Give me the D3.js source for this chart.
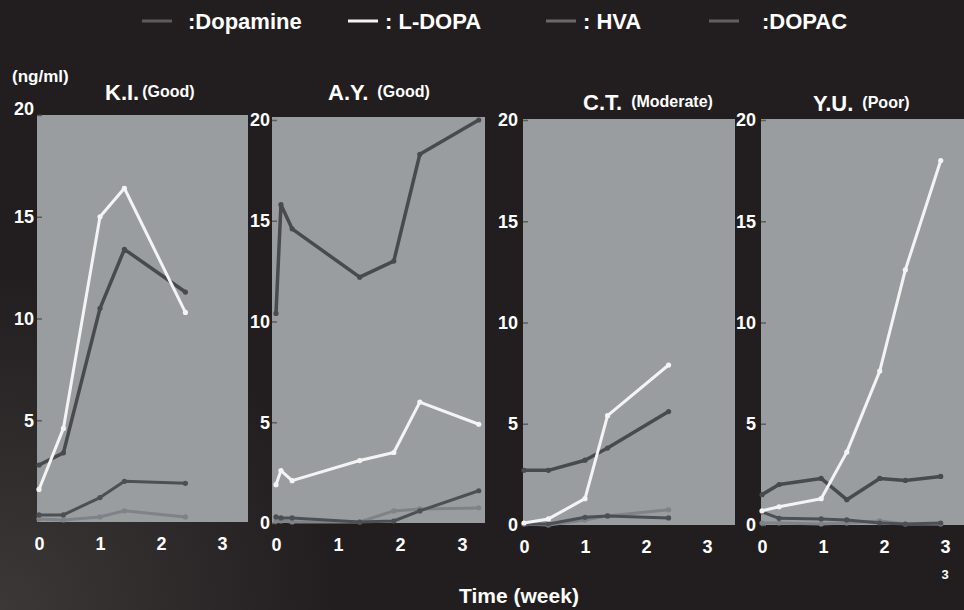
<!DOCTYPE html>
<html>
<head>
<meta charset="utf-8">
<script src="https://cdn.jsdelivr.net/npm/d3@7"></script>
<style>
  html, body { margin: 0; padding: 0; background: #221e1f; }
  svg text { font-family: 'Liberation Sans', Arial, sans-serif; font-weight: bold; fill: #fff; }
</style>
</head>
<body>
<svg id="chart" width="964" height="610"></svg>
<script>
// series + panel labels
const seriesNames = ['Dopamine', 'L-DOPA', 'HVA', 'DOPAC'];
const legendLabels = [':Dopamine', ': L-DOPA', ': HVA', ':DOPAC'];
const patients = ['K.I.', 'A.Y.', 'C.T.', 'Y.U.'];
const outcomes = ['(Good)', '(Good)', '(Moderate)', '(Poor)'];
const yTicks = [0, 5, 10, 15, 20];
const xTicks = [0, 1, 2, 3];

// K.I. (Good)
const kiWeeks = [0, 0.4, 1.0, 1.4, 2.4];
const kiDopamine = [0.15, 0.1, 0.25, 0.55, 0.25];
const kiLdopa = [1.6, 4.6, 15.0, 16.4, 10.3];
const kiHva = [2.8, 3.4, 10.5, 13.4, 11.3];
const kiDopac = [0.35, 0.35, 1.2, 2.0, 1.9];

// A.Y. (Good)
const ayWeeks = [0, 0.08, 0.26, 1.35, 1.9, 2.32, 3.27];
const ayDopamine = [0.1, 0.1, 0.05, 0.05, 0.6, 0.7, 0.75];
const ayLdopa = [1.9, 2.6, 2.1, 3.1, 3.5, 6.0, 4.9];
const ayHva = [10.4, 15.8, 14.6, 12.2, 13.0, 18.3, 20.0];
const ayDopac = [0.3, 0.25, 0.25, 0.05, 0.1, 0.6, 1.6];

// C.T. (Moderate)
const ctWeeks = [0, 0.4, 1.0, 1.37, 2.37];
const ctDopamine = [0.05, 0.0, 0.25, 0.45, 0.75];
const ctLdopa = [0.1, 0.3, 1.3, 5.4, 7.9];
const ctHva = [2.7, 2.7, 3.2, 3.8, 5.6];
const ctDopac = [0.05, 0.05, 0.38, 0.45, 0.35];

// Y.U. (Poor)
const yuWeeks = [0, 0.28, 0.97, 1.39, 1.93, 2.35, 2.93];
const yuDopamine = [0.1, 0.1, 0.05, 0.1, 0.2, 0.05, 0.05];
const yuLdopa = [0.7, 0.9, 1.3, 3.6, 7.6, 12.6, 18.0];
const yuHva = [1.5, 2.0, 2.3, 1.25, 2.3, 2.2, 2.4];
const yuDopac = [0.65, 0.33, 0.3, 0.25, 0.1, 0.05, 0.1];

const panelData = [
  { weeks: kiWeeks, values: [kiDopamine, kiLdopa, kiHva, kiDopac] },
  { weeks: ayWeeks, values: [ayDopamine, ayLdopa, ayHva, ayDopac] },
  { weeks: ctWeeks, values: [ctDopamine, ctLdopa, ctHva, ctDopac] },
  { weeks: yuWeeks, values: [yuDopamine, yuLdopa, yuHva, yuDopac] },
];

// layout of each panel (pixels)
const layout = [
  { left: 37, right: 248, top: 115, bottom: 522, x0: 39, wk: 61, y20: 115, pad: 3, showZero: false, titleX: 105, titleY: 100 },
  { left: 272, right: 485, top: 117, bottom: 523, x0: 276, wk: 62, y20: 120, pad: 2, showZero: true, titleX: 328, titleY: 100 },
  { left: 523, right: 735, top: 119, bottom: 525, x0: 524, wk: 61, y20: 120, pad: 5, showZero: true, titleX: 583, titleY: 110 },
  { left: 761, right: 964, top: 119, bottom: 525, x0: 762, wk: 61, y20: 120, pad: 5, showZero: true, titleX: 813, titleY: 111 },
];

const colorScale = d3.scaleOrdinal()
  .domain(seriesNames)
  .range(['#7f8286', '#f4f4f4', '#474b4f', '#4c5054']);
const legendColor = d3.scaleOrdinal()
  .domain(seriesNames)
  .range(['#5c5a5a', '#f4f4f4', '#6a6868', '#606060']);
const strokeW = { 'Dopamine': 3, 'L-DOPA': 3, 'HVA': 3.5, 'DOPAC': 3 };
const drawOrder = ['Dopamine', 'DOPAC', 'HVA', 'L-DOPA'];

const svg = d3.select('#chart');

// background with lighter corner at bottom-left
const defs = svg.append('defs');
const grad = defs.append('radialGradient')
  .attr('id', 'bg-glow')
  .attr('gradientUnits', 'userSpaceOnUse')
  .attr('cx', 0).attr('cy', 610).attr('r', 340);
grad.append('stop').attr('offset', '0%').attr('stop-color', '#3c3838');
grad.append('stop').attr('offset', '100%').attr('stop-color', '#221e1f');
svg.append('rect').attr('width', 964).attr('height', 610).attr('fill', '#221e1f');
svg.append('rect').attr('width', 964).attr('height', 610).attr('fill', 'url(#bg-glow)');

// legend
const legendX = [142, 348, 546, 709];
const legend = svg.append('g').attr('class', 'legend');
seriesNames.forEach((s, i) => {
  const g = legend.append('g').attr('transform', `translate(${legendX[i]},20)`);
  g.append('line')
    .attr('x1', 0).attr('x2', 30).attr('y1', 1).attr('y2', 1)
    .attr('stroke', legendColor(s)).attr('stroke-width', 3);
  g.append('text')
    .attr('x', s === 'Dopamine' ? 46 : s === 'DOPAC' ? 53 : 37)
    .attr('y', 9)
    .style('font-size', '22px')
    .text(legendLabels[i]);
});

// unit label
svg.append('text').attr('x', 12).attr('y', 82).style('font-size', '17px').text('(ng/ml)');

panelData.forEach((pd, p) => {
  const L = layout[p];
  const x = d3.scaleLinear().domain([0, 3]).range([L.x0, L.x0 + 3 * L.wk]);
  const y = d3.scaleLinear().domain([0, 20]).range([L.bottom, L.y20]);

  const g = svg.append('g').attr('class', 'panel');

  g.append('rect')
    .attr('x', L.left).attr('y', L.top)
    .attr('width', L.right - L.left).attr('height', L.bottom - L.top)
    .attr('fill', '#9a9da0');

  // title
  const title = g.append('text').attr('x', L.titleX).attr('y', L.titleY);
  title.append('tspan').style('font-size', '22px').text(patients[p]);
  title.append('tspan').attr('dx', p === 0 ? 3 : 9).attr('dy', -3).style('font-size', '16px').text(outcomes[p]);

  // y axis, small ticks pointing into the panel
  const yAxis = d3.axisLeft(y)
    .tickValues(L.showZero ? yTicks : yTicks.slice(1))
    .tickSize(-5)
    .tickPadding(L.pad);
  const yAxisG = g.append('g')
    .attr('class', 'axis y-axis')
    .attr('transform', `translate(${L.left},0)`)
    .call(yAxis);
  yAxisG.select('.domain').remove();
  yAxisG.selectAll('line').attr('stroke', '#5a5d60').attr('stroke-width', 1.5);
  yAxisG.selectAll('text')
    .attr('fill', '#fff')
    .style('font-size', '18px')
    .style('font-family', "'Liberation Sans', Arial, sans-serif")
    .style('font-weight', 'bold');
  // K.I. top label sits a little above the panel
  if (p === 0) yAxisG.selectAll('.tick').filter((d) => d === 20).select('text').attr('dy', '-0.05em');

  // x axis
  const xAxis = d3.axisBottom(x).tickValues(xTicks).tickSize(0).tickPadding(10).tickFormat(d3.format('d'));
  const xAxisG = g.append('g')
    .attr('class', 'axis x-axis')
    .attr('transform', `translate(0,${L.bottom + 5})`)
    .call(xAxis);
  xAxisG.select('.domain').remove();
  xAxisG.selectAll('text')
    .attr('fill', '#fff')
    .style('font-size', '18px')
    .style('font-family', "'Liberation Sans', Arial, sans-serif")
    .style('font-weight', 'bold');

  // lines
  const line = d3.line().x((d) => x(d.t)).y((d) => y(d.v));
  drawOrder.forEach((s) => {
    const k = seriesNames.indexOf(s);
    const pts = pd.weeks.map((t, j) => ({ t, v: pd.values[k][j] }));
    g.append('path')
      .datum(pts)
      .attr('fill', 'none')
      .attr('stroke', colorScale(s))
      .attr('stroke-width', strokeW[s])
      .attr('stroke-linejoin', 'round')
      .attr('d', line);
    g.selectAll(null)
      .data(pts)
      .join('circle')
      .attr('cx', (d) => x(d.t))
      .attr('cy', (d) => y(d.v))
      .attr('r', 2.6)
      .attr('fill', colorScale(s));
  });
});

// x axis title and page number
svg.append('text').attr('x', 519).attr('y', 603).attr('text-anchor', 'middle').style('font-size', '21px').text('Time (week)');
svg.append('text').attr('x', 945).attr('y', 579).attr('text-anchor', 'middle').style('font-size', '13px').text('3');
</script>
</body>
</html>
